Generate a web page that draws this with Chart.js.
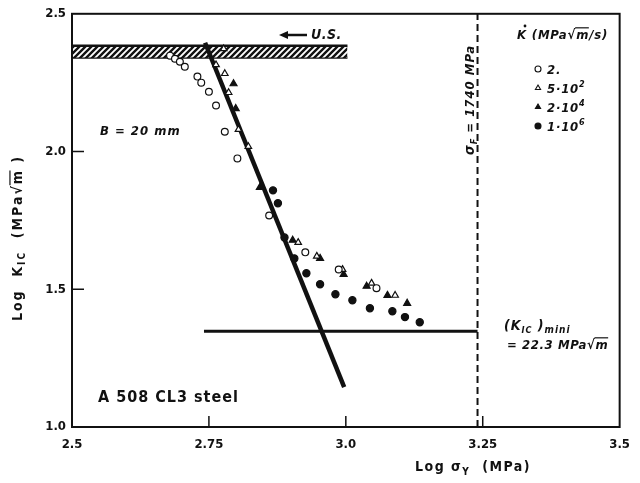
<!DOCTYPE html>
<html>
<head>
<meta charset="utf-8">
<script src="https://cdn.jsdelivr.net/npm/chart.js@4/dist/chart.umd.min.js"></script>
<style>
html,body{margin:0;padding:0;background:#fff}
#wrap{width:640px;height:483px}
</style>
</head>
<body>
<div id="wrap"><canvas id="c" width="640" height="483"></canvas></div>
<script>
// log(sigma_Y) / log(K_IC) values
const rate2X   = [2.679, 2.688, 2.697, 2.706, 2.729, 2.736, 2.750, 2.763, 2.779, 2.802, 2.860, 2.926, 2.987, 3.056];
const rate2Y   = [2.348, 2.337, 2.326, 2.308, 2.272, 2.250, 2.217, 2.167, 2.072, 1.975, 1.768, 1.634, 1.572, 1.504];
const rate5e2X = [2.777, 2.763, 2.779, 2.786, 2.804, 2.822, 2.913, 2.947, 2.994, 3.047, 3.090];
const rate5e2Y = [2.373, 2.315, 2.283, 2.214, 2.080, 2.018, 1.670, 1.620, 1.572, 1.522, 1.478];
const rate2e4X = [2.795, 2.799, 2.843, 2.903, 2.953, 2.996, 3.038, 3.076, 3.112];
const rate2e4Y = [2.246, 2.156, 1.870, 1.678, 1.612, 1.554, 1.511, 1.478, 1.449];
const rate1e6X = [2.867, 2.876, 2.888, 2.906, 2.928, 2.953, 2.981, 3.012, 3.044, 3.085, 3.108, 3.135];
const rate1e6Y = [1.859, 1.812, 1.688, 1.612, 1.558, 1.518, 1.482, 1.460, 1.431, 1.420, 1.399, 1.380];

const fitLineX = [2.743, 2.997];
const fitLineY = [2.395, 1.145];
const kicMinX = [2.741, 3.2405];
const kicMinY = [1.348, 1.348];
const sigmaF = 3.2405;
const usBandX = [2.5, 3.003];
const usBandTop = 2.384;
const usBandBottom = 2.341;

const xTicks = [2.5, 2.75, 3.0, 3.25, 3.5];
const yTicks = [1.0, 1.5, 2.0, 2.5];

const INK = '#111';
const FONT = '"DejaVu Sans Condensed", "DejaVu Sans", sans-serif';
const F = (size, italic) => `${italic ? 'italic ' : ''}bold ${size}px ${FONT}`;

const pts = (xs, ys) => xs.map((x, i) => ({x: x, y: ys[i]}));

function hatch() {
    const c = document.createElement('canvas');
    c.width = 6; c.height = 6;
    const g = c.getContext('2d');
    g.fillStyle = '#fff';
    g.fillRect(0, 0, 6, 6);
    g.strokeStyle = INK;
    g.lineWidth = 2.4;
    g.beginPath();
    g.moveTo(0, 6); g.lineTo(6, 0);
    g.moveTo(-1, 1); g.lineTo(1, -1);
    g.moveTo(5, 7); g.lineTo(7, 5);
    g.stroke();
    return g.createPattern(c, 'repeat');
}

// text with sub/superscripts: runs = [{t, s, dy, it, over}], ls = letter spacing
function drawRuns(ctx, runs, x, y, align, ls) {
    ls = ls || 0;
    let w = 0;
    runs.forEach(r => {
        ctx.font = F(r.s, r.it);
        ctx.letterSpacing = ls + 'px';
        r.w = ctx.measureText(r.t).width;
        w += r.w;
    });
    let cx = align === 'center' ? x - w / 2 : x;
    ctx.textAlign = 'left';
    ctx.textBaseline = 'alphabetic';
    runs.forEach(r => {
        ctx.font = F(r.s, r.it);
        ctx.letterSpacing = ls + 'px';
        ctx.fillText(r.t, cx, y + (r.dy || 0));
        if (r.over) {
            ctx.lineWidth = 1.2;
            ctx.beginPath();
            ctx.moveTo(cx - 1, y - r.s * 0.86);
            ctx.lineTo(cx + r.w - ls + 0.5, y - r.s * 0.86);
            ctx.stroke();
        }
        cx += r.w;
    });
    ctx.letterSpacing = '0px';
}

const decor = {
    id: 'decor',
    afterDatasetsDraw(chart) {
        const {ctx, chartArea: a, scales} = chart;
        ctx.save();
        ctx.strokeStyle = INK;
        ctx.lineWidth = 2;
        ctx.strokeRect(a.left, a.top, a.right - a.left, a.bottom - a.top);
        // inward tick marks
        ctx.lineWidth = 1.5;
        ctx.beginPath();
        xTicks.slice(1, -1).forEach(v => {
            const p = scales.x.getPixelForValue(v);
            ctx.moveTo(p, a.bottom); ctx.lineTo(p, a.bottom - 11);
        });
        yTicks.slice(1, -1).forEach(v => {
            const p = scales.y.getPixelForValue(v);
            ctx.moveTo(a.left, p); ctx.lineTo(a.left + 12, p);
        });
        ctx.stroke();
        ctx.restore();
    },
    afterDraw(chart) {
        const {ctx} = chart;
        ctx.save();
        ctx.fillStyle = INK;
        ctx.strokeStyle = INK;

        // axis titles
        drawRuns(ctx, [
            {t: 'Log σ', s: 14}, {t: 'Y', s: 10, dy: 4}, {t: '  (MPa)', s: 14}
        ], 473, 471, 'center', 1.5);
        ctx.save();
        ctx.translate(22, 238);
        ctx.rotate(-Math.PI / 2);
        drawRuns(ctx, [
            {t: 'Log  K', s: 14}, {t: 'IC', s: 10, dy: 3}, {t: '  (MPa', s: 14},
            {t: '√', s: 14}, {t: 'm', s: 14, over: true}, {t: ' )', s: 14}
        ], 0, 0, 'center', 2);
        ctx.restore();

        // annotations
        drawRuns(ctx, [{t: 'B = 20 mm', s: 13, it: true}], 100, 135, 'left', 1);
        drawRuns(ctx, [{t: 'A 508 CL3 steel', s: 16}], 98, 402, 'left', 1);
        drawRuns(ctx, [{t: 'U.S.', s: 14, it: true}], 311, 39, 'left', 0.5);
        ctx.lineWidth = 2.5;
        ctx.beginPath(); ctx.moveTo(307, 35); ctx.lineTo(286, 35); ctx.stroke();
        ctx.beginPath(); ctx.moveTo(279, 35); ctx.lineTo(288, 31); ctx.lineTo(288, 39); ctx.closePath(); ctx.fill();

        drawRuns(ctx, [
            {t: '(K', s: 14, it: true}, {t: 'IC', s: 9, dy: 3, it: true},
            {t: ' )', s: 14, it: true}, {t: 'mini', s: 10, dy: 3, it: true}
        ], 504, 330, 'left', 1);
        drawRuns(ctx, [
            {t: '= 22.3 MPa', s: 13, it: true}, {t: '√', s: 13, it: true},
            {t: 'm', s: 13, it: true, over: true}
        ], 507, 349, 'left', 0.6);

        ctx.save();
        ctx.translate(474, 100);
        ctx.rotate(-Math.PI / 2);
        drawRuns(ctx, [
            {t: 'σ', s: 14, it: true}, {t: 'F', s: 9, dy: 3, it: true},
            {t: ' = 1740 MPa', s: 13, it: true}
        ], 0, 0, 'center', 1);
        ctx.restore();

        // legend
        drawRuns(ctx, [
            {t: 'K', s: 13, it: true}, {t: ' (MPa', s: 13, it: true}, {t: '√', s: 13, it: true},
            {t: 'm', s: 13, it: true, over: true}, {t: '/s)', s: 13, it: true}
        ], 517, 39, 'left', 0.8);
        ctx.beginPath(); ctx.arc(525, 26, 1.4, 0, Math.PI * 2); ctx.fill();

        const items = [
            {ds: 0, runs: [{t: '2.', s: 13, it: true}]},
            {ds: 1, runs: [{t: '5·10', s: 13, it: true}, {t: '2', s: 9, dy: -6, it: true}]},
            {ds: 2, runs: [{t: '2·10', s: 13, it: true}, {t: '4', s: 9, dy: -6, it: true}]},
            {ds: 3, runs: [{t: '1·10', s: 13, it: true}, {t: '6', s: 9, dy: -6, it: true}]}
        ];
        items.forEach((it, i) => {
            const y = 69 + i * 19;
            const d = chart.data.datasets[it.ds];
            ctx.fillStyle = d.backgroundColor;
            ctx.strokeStyle = INK;
            ctx.lineWidth = 1.1;
            Chart.helpers.drawPoint(ctx, {pointStyle: d.pointStyle, radius: 3, rotation: 0, borderWidth: 1.1}, 538, y);
            ctx.fillStyle = INK;
            drawRuns(ctx, it.runs, 547, y + 5, 'left', 0.8);
        });
        ctx.restore();
    }
};

function markers(label, xs, ys, style, fill, r) {
    return {
        label: label,
        data: pts(xs, ys),
        pointStyle: style,
        pointRadius: r,
        pointBorderWidth: 1.2,
        backgroundColor: fill,
        borderColor: INK,
        showLine: false
    };
}

function line(label, xs, ys, width, dash) {
    return {
        label: label,
        data: pts(xs, ys),
        showLine: true,
        borderColor: INK,
        borderWidth: width,
        borderDash: dash || [],
        pointRadius: 0,
        tension: 0,
        fill: false
    };
}

const bandTop = line('US band', usBandX, usBandX.map(() => usBandTop), 2.5);
bandTop.fill = '+1';
bandTop.backgroundColor = hatch();
const bandBottom = line('US band low', usBandX, usBandX.map(() => usBandBottom), 2.5);

new Chart(document.getElementById('c'), {
    type: 'scatter',
    data: {
        datasets: [
            markers('2.', rate2X, rate2Y, 'circle', '#fff', 3.4),
            markers('5·10²', rate5e2X, rate5e2Y, 'triangle', '#fff', 3.8),
            markers('2·10⁴', rate2e4X, rate2e4Y, 'triangle', INK, 4),
            markers('1·10⁶', rate1e6X, rate1e6Y, 'circle', INK, 3.6),
            line('fit', fitLineX, fitLineY, 4.5),
            line('KIC mini', kicMinX, kicMinY, 3),
            line('sigma F', [sigmaF, sigmaF], [1.0, 2.5], 2, [7, 4]),
            bandTop,
            bandBottom
        ]
    },
    options: {
        responsive: false,
        animation: false,
        layout: {padding: {top: 13, right: 9, left: 0, bottom: 0}},
        plugins: {legend: {display: false}, tooltip: {enabled: false}},
        scales: {
            x: {
                type: 'linear', min: 2.5, max: 3.5,
                afterFit: s => { s.height = 56; },
                afterBuildTicks: s => { s.ticks = xTicks.map(v => ({value: v})); },
                grid: {display: false, drawTicks: false},
                border: {display: false},
                ticks: {
                    color: INK, padding: 10,
                    font: {family: FONT, size: 13, weight: 'bold'},
                    callback: v => Math.abs(v * 2 - Math.round(v * 2)) < 1e-6 ? v.toFixed(1) : v.toFixed(2)
                }
            },
            y: {
                type: 'linear', min: 1.0, max: 2.5,
                afterFit: s => { s.width = 72; },
                afterBuildTicks: s => { s.ticks = yTicks.map(v => ({value: v})); },
                grid: {display: false, drawTicks: false},
                border: {display: false},
                ticks: {
                    color: INK, padding: 6,
                    font: {family: FONT, size: 13, weight: 'bold'},
                    callback: v => v.toFixed(1)
                }
            }
        }
    },
    plugins: [decor]
});
</script>
</body>
</html>
